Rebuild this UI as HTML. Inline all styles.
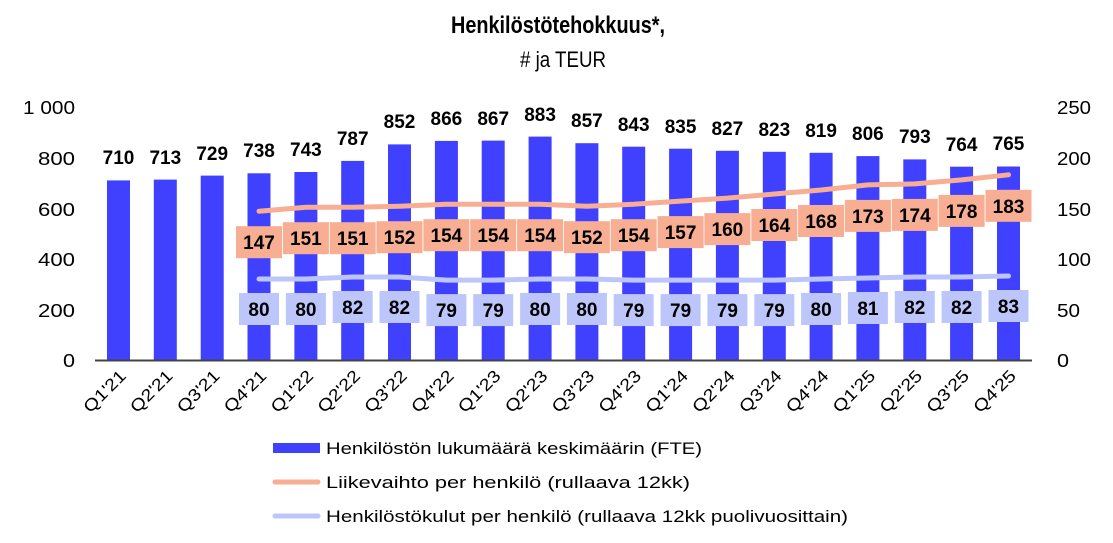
<!DOCTYPE html>
<html><head><meta charset="utf-8"><style>
body{margin:0;background:#fff}
svg{display:block;font-family:"Liberation Sans",sans-serif}
.bl{font-weight:bold;font-size:19px;text-anchor:middle;fill:#000}
.ax{font-size:18px;fill:#000}
.xl{font-size:17px;fill:#000;text-anchor:end}
.lg{font-size:17px;fill:#000}
.ob{fill:#f7ae92}
.bb{fill:#bcc6fb}
</style></head><body>
<svg width="1113" height="543" viewBox="0 0 1113 543">
<text x="558" y="33" text-anchor="middle" font-weight="bold" font-size="24" textLength="214" lengthAdjust="spacingAndGlyphs">Henkilöstötehokkuus*,</text>
<text x="520" y="67" text-anchor="start" font-size="22" textLength="86" lengthAdjust="spacingAndGlyphs"># ja TEUR</text>
<g class="ax" text-anchor="end">
<text x="75" y="114" textLength="52" lengthAdjust="spacingAndGlyphs">1 000</text><text x="75" y="165" textLength="37" lengthAdjust="spacingAndGlyphs">800</text><text x="75" y="216" textLength="37" lengthAdjust="spacingAndGlyphs">600</text><text x="75" y="266" textLength="37" lengthAdjust="spacingAndGlyphs">400</text><text x="75" y="317" textLength="37" lengthAdjust="spacingAndGlyphs">200</text><text x="75" y="367" textLength="12" lengthAdjust="spacingAndGlyphs">0</text>
</g>
<g class="ax">
<text x="1057" y="114" textLength="34" lengthAdjust="spacingAndGlyphs">250</text><text x="1057" y="165" textLength="34" lengthAdjust="spacingAndGlyphs">200</text><text x="1057" y="216" textLength="34" lengthAdjust="spacingAndGlyphs">150</text><text x="1057" y="266" textLength="34" lengthAdjust="spacingAndGlyphs">100</text><text x="1057" y="317" textLength="23" lengthAdjust="spacingAndGlyphs">50</text><text x="1057" y="367" textLength="12" lengthAdjust="spacingAndGlyphs">0</text>
</g>
<g fill="#4040ff">
<rect x="107" y="180.4" width="23" height="179.6"/><rect x="153.8" y="179.6" width="23" height="180.4"/><rect x="200.7" y="175.6" width="23" height="184.4"/><rect x="247.5" y="173.3" width="23" height="186.7"/><rect x="294.4" y="172" width="23" height="188"/><rect x="341.2" y="160.9" width="23" height="199.1"/><rect x="388" y="144.4" width="23" height="215.6"/><rect x="434.9" y="140.9" width="23" height="219.1"/><rect x="481.7" y="140.6" width="23" height="219.4"/><rect x="528.6" y="136.6" width="23" height="223.4"/><rect x="575.4" y="143.2" width="23" height="216.8"/><rect x="622.2" y="146.7" width="23" height="213.3"/><rect x="669.1" y="148.7" width="23" height="211.3"/><rect x="715.9" y="150.8" width="23" height="209.2"/><rect x="762.8" y="151.8" width="23" height="208.2"/><rect x="809.6" y="152.8" width="23" height="207.2"/><rect x="856.4" y="156.1" width="23" height="203.9"/><rect x="903.3" y="159.4" width="23" height="200.6"/><rect x="950.1" y="166.7" width="23" height="193.3"/><rect x="997" y="166.5" width="23" height="193.5"/>
</g>
<line x1="95" y1="360.5" x2="1032" y2="360.5" stroke="#444" stroke-width="2"/>
<g class="bl">
<text x="118.5" y="164">710</text><text x="165.3" y="164">713</text><text x="212.2" y="160">729</text><text x="259" y="157">738</text><text x="305.9" y="156">743</text><text x="352.7" y="145">787</text><text x="399.5" y="128">852</text><text x="446.4" y="125">866</text><text x="493.2" y="125">867</text><text x="540.1" y="121">883</text><text x="586.9" y="127">857</text><text x="633.7" y="131">843</text><text x="680.6" y="133">835</text><text x="727.4" y="135">827</text><text x="774.3" y="136">823</text><text x="821.1" y="137">819</text><text x="867.9" y="140">806</text><text x="914.8" y="143">793</text><text x="961.6" y="151">764</text><text x="1008.5" y="150">765</text>
</g>
<polyline fill="none" stroke="#f7ae92" stroke-width="5" stroke-linecap="round" stroke-linejoin="round" points="259,211.2 305.9,207.2 352.7,207.2 399.5,206.2 446.4,204.2 493.2,204.2 540.1,204.2 586.9,206.2 633.7,204.2 680.6,201.1 727.4,198.1 774.3,194 821.1,190 867.9,184.9 914.8,183.9 961.6,179.9 1008.5,174.8"/>
<polyline fill="none" stroke="#bcc6fb" stroke-width="5" stroke-linecap="round" stroke-linejoin="round" points="259,279 305.9,279 352.7,277 399.5,277 446.4,280.1 493.2,280.1 540.1,279 586.9,279 633.7,280.1 680.6,280.1 727.4,280.1 774.3,280.1 821.1,279 867.9,278 914.8,277 961.6,277 1008.5,276"/>
<g class="ob">
<rect x="236" y="226.2" width="46" height="32"/><rect x="282.9" y="222.2" width="46" height="32"/><rect x="329.7" y="222.2" width="46" height="32"/><rect x="376.5" y="221.2" width="46" height="32"/><rect x="423.4" y="219.2" width="46" height="32"/><rect x="470.2" y="219.2" width="46" height="32"/><rect x="517.1" y="219.2" width="46" height="32"/><rect x="563.9" y="221.2" width="46" height="32"/><rect x="610.7" y="219.2" width="46" height="32"/><rect x="657.6" y="216.1" width="46" height="32"/><rect x="704.4" y="213.1" width="46" height="32"/><rect x="751.3" y="209" width="46" height="32"/><rect x="798.1" y="205" width="46" height="32"/><rect x="844.9" y="199.9" width="46" height="32"/><rect x="891.8" y="198.9" width="46" height="32"/><rect x="938.6" y="194.9" width="46" height="32"/><rect x="985.5" y="189.8" width="46" height="32"/>
</g>
<g class="bb">
<rect x="239" y="293" width="40" height="32"/><rect x="285.9" y="293" width="40" height="32"/><rect x="332.7" y="291" width="40" height="32"/><rect x="379.5" y="291" width="40" height="32"/><rect x="426.4" y="294.1" width="40" height="32"/><rect x="473.2" y="294.1" width="40" height="32"/><rect x="520.1" y="293" width="40" height="32"/><rect x="566.9" y="293" width="40" height="32"/><rect x="613.7" y="294.1" width="40" height="32"/><rect x="660.6" y="294.1" width="40" height="32"/><rect x="707.4" y="294.1" width="40" height="32"/><rect x="754.3" y="294.1" width="40" height="32"/><rect x="801.1" y="293" width="40" height="32"/><rect x="847.9" y="292" width="40" height="32"/><rect x="894.8" y="291" width="40" height="32"/><rect x="941.6" y="291" width="40" height="32"/><rect x="988.5" y="290" width="40" height="32"/>
</g>
<g class="bl">
<text x="259" y="249.2">147</text><text x="305.9" y="245.2">151</text><text x="352.7" y="245.2">151</text><text x="399.5" y="244.2">152</text><text x="446.4" y="242.2">154</text><text x="493.2" y="242.2">154</text><text x="540.1" y="242.2">154</text><text x="586.9" y="244.2">152</text><text x="633.7" y="242.2">154</text><text x="680.6" y="239.1">157</text><text x="727.4" y="236.1">160</text><text x="774.3" y="232">164</text><text x="821.1" y="228">168</text><text x="867.9" y="222.9">173</text><text x="914.8" y="221.9">174</text><text x="961.6" y="217.9">178</text><text x="1008.5" y="212.8">183</text>
<text x="259" y="316">80</text><text x="305.9" y="316">80</text><text x="352.7" y="314">82</text><text x="399.5" y="314">82</text><text x="446.4" y="317.1">79</text><text x="493.2" y="317.1">79</text><text x="540.1" y="316">80</text><text x="586.9" y="316">80</text><text x="633.7" y="317.1">79</text><text x="680.6" y="317.1">79</text><text x="727.4" y="317.1">79</text><text x="774.3" y="317.1">79</text><text x="821.1" y="316">80</text><text x="867.9" y="315">81</text><text x="914.8" y="314">82</text><text x="961.6" y="314">82</text><text x="1008.5" y="313">83</text>
</g>
<g class="xl">
<text transform="translate(127,377) rotate(-45)" textLength="52" lengthAdjust="spacingAndGlyphs">Q1'21</text><text transform="translate(173.8,377) rotate(-45)" textLength="52" lengthAdjust="spacingAndGlyphs">Q2'21</text><text transform="translate(220.7,377) rotate(-45)" textLength="52" lengthAdjust="spacingAndGlyphs">Q3'21</text><text transform="translate(267.5,377) rotate(-45)" textLength="52" lengthAdjust="spacingAndGlyphs">Q4'21</text><text transform="translate(314.4,377) rotate(-45)" textLength="52" lengthAdjust="spacingAndGlyphs">Q1'22</text><text transform="translate(361.2,377) rotate(-45)" textLength="52" lengthAdjust="spacingAndGlyphs">Q2'22</text><text transform="translate(408,377) rotate(-45)" textLength="52" lengthAdjust="spacingAndGlyphs">Q3'22</text><text transform="translate(454.9,377) rotate(-45)" textLength="52" lengthAdjust="spacingAndGlyphs">Q4'22</text><text transform="translate(501.7,377) rotate(-45)" textLength="52" lengthAdjust="spacingAndGlyphs">Q1'23</text><text transform="translate(548.6,377) rotate(-45)" textLength="52" lengthAdjust="spacingAndGlyphs">Q2'23</text><text transform="translate(595.4,377) rotate(-45)" textLength="52" lengthAdjust="spacingAndGlyphs">Q3'23</text><text transform="translate(642.2,377) rotate(-45)" textLength="52" lengthAdjust="spacingAndGlyphs">Q4'23</text><text transform="translate(689.1,377) rotate(-45)" textLength="52" lengthAdjust="spacingAndGlyphs">Q1'24</text><text transform="translate(735.9,377) rotate(-45)" textLength="52" lengthAdjust="spacingAndGlyphs">Q2'24</text><text transform="translate(782.8,377) rotate(-45)" textLength="52" lengthAdjust="spacingAndGlyphs">Q3'24</text><text transform="translate(829.6,377) rotate(-45)" textLength="52" lengthAdjust="spacingAndGlyphs">Q4'24</text><text transform="translate(876.4,377) rotate(-45)" textLength="52" lengthAdjust="spacingAndGlyphs">Q1'25</text><text transform="translate(923.3,377) rotate(-45)" textLength="52" lengthAdjust="spacingAndGlyphs">Q2'25</text><text transform="translate(970.1,377) rotate(-45)" textLength="52" lengthAdjust="spacingAndGlyphs">Q3'25</text><text transform="translate(1017,377) rotate(-45)" textLength="52" lengthAdjust="spacingAndGlyphs">Q4'25</text>
</g>
<rect x="273" y="443" width="47" height="10" fill="#4040ff"/>
<line x1="275" y1="482" x2="318" y2="482" stroke="#f7ae92" stroke-width="5" stroke-linecap="round"/>
<line x1="275" y1="516" x2="318" y2="516" stroke="#bcc6fb" stroke-width="5" stroke-linecap="round"/>
<g class="lg">
<text x="326" y="454" textLength="376" lengthAdjust="spacingAndGlyphs">Henkilöstön lukumäärä keskimäärin (FTE)</text>
<text x="326" y="488" textLength="364" lengthAdjust="spacingAndGlyphs">Liikevaihto per henkilö (rullaava 12kk)</text>
<text x="326" y="522" textLength="522" lengthAdjust="spacingAndGlyphs">Henkilöstökulut per henkilö (rullaava 12kk puolivuosittain)</text>
</g>
</svg>
</body></html>
